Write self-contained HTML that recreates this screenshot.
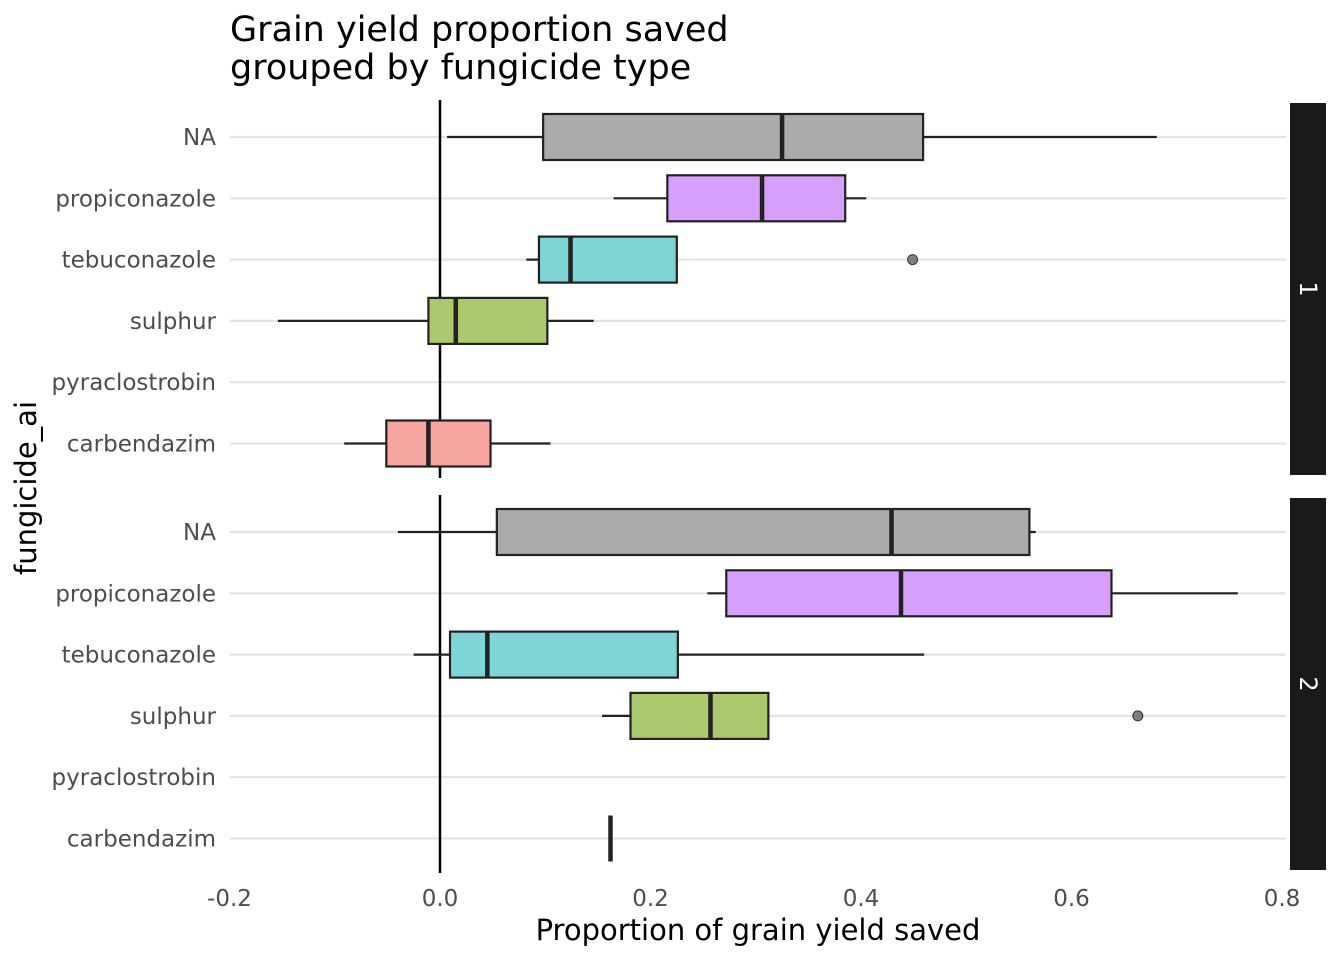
<!DOCTYPE html>
<html><head><meta charset="utf-8"><style>
body{margin:0;background:#fff;}
svg{display:block;font-family:"DejaVu Sans","Liberation Sans",sans-serif;}
</style></head><body>
<svg id="chart" width="1344" height="960" viewBox="0 0 1344 960" xmlns="http://www.w3.org/2000/svg">
<text x="230" y="41" font-size="35" fill="#000">Grain yield proportion saved</text>
<text x="230" y="79" font-size="35" fill="#000">grouped by fungicide type</text>
<text x="758" y="940" font-size="29" text-anchor="middle" fill="#000">Proportion of grain yield saved</text>
<text transform="translate(36,488) rotate(-90)" font-size="29" text-anchor="middle" fill="#000">fungicide_ai</text>
<g id="plot"></g>
</svg>
<script>
const categories = ["carbendazim","pyraclostrobin","sulphur","tebuconazole","propiconazole","NA"];
const panels = ["1","2"];
// [lo, q1, median, q3, hi] per category, null = no data
const panel1Stats = [[-0.091,-0.051,-0.011,0.048,0.105], null, [-0.154,-0.011,0.015,0.102,0.146], [0.082,0.094,0.124,0.225,0.225], [0.165,0.216,0.306,0.385,0.405], [0.0067,0.098,0.325,0.459,0.681]];
const panel2Stats = [[0.162,0.162,0.162,0.162,0.162], null, [0.154,0.181,0.257,0.312,0.312], [-0.025,0.0095,0.045,0.226,0.460], [0.254,0.272,0.438,0.638,0.758], [-0.040,0.054,0.429,0.560,0.566]];
const panel1Outliers = [[3,0.449]];
const panel2Outliers = [[2,0.663]];
const xTicks = [-0.2,0,0.2,0.4,0.6,0.8];
const xTickLabels = ["-0.2","0.0","0.2","0.4","0.6","0.8"];
const colors = ["#f7a5a1","#ccc","#aac96f","#7fd4d6","#d69ffb","#ababab"];

const NS="http://www.w3.org/2000/svg";
const g=document.getElementById('plot');
function mk(t,a,p){const e=document.createElementNS(NS,t);for(const k in a)e.setAttribute(k,a[k]);(p||g).appendChild(e);return e;}
const x=v=>440+v*1052.5;
const panelTop=[100,495], panelH=378, rowStep=61.3;
const y=(pi,ci)=>panelTop[pi]+37+(5-ci)*rowStep;
const allStats=[panel1Stats,panel2Stats], allOut=[panel1Outliers,panel2Outliers];

panels.forEach((pn,pi)=>{
  const top=panelTop[pi];
  categories.forEach((c,ci)=>{
    const gl=mk('line',{x1:230,x2:1286,y1:y(pi,ci),y2:y(pi,ci),stroke:'#e3e3e3','stroke-width':2.2});
    
    
    const t=mk('text',{x:216,y:y(pi,ci)+8,'font-size':23,fill:'#4d4d4d','text-anchor':'end'});
    t.textContent=c;
    
    
  });
  const zl=mk('line',{x1:x(0),x2:x(0),y1:top,y2:top+panelH,stroke:'#000','stroke-width':2.5});
  
  
  allStats[pi].forEach((s,ci)=>{
    if(!s)return;
    const cy=y(pi,ci);
    const bg=mk('g',{});
    
    
    mk('line',{x1:x(s[0]),x2:x(s[4]),y1:cy,y2:cy,stroke:'#222','stroke-width':2.2},bg);
    mk('rect',{x:x(s[1]),y:cy-23,width:Math.max(0,x(s[3])-x(s[1])),height:46,fill:colors[ci],stroke:'#222','stroke-width':2.2},bg);
    mk('line',{x1:x(s[2]),x2:x(s[2]),y1:cy-23,y2:cy+23,stroke:'#222','stroke-width':4.5},bg);
  });
  allOut[pi].forEach(o=>{
    const c=mk('circle',{cx:x(o[1]),cy:y(pi,o[0]),r:5,fill:'#555','fill-opacity':0.75,stroke:'#333','stroke-width':1});
    
    
  });
  const st=mk('rect',{x:1290,y:top+3,width:36,height:panelH-6,fill:'#1a1a1a'});
  
  
  const sl=mk('text',{transform:`translate(1300,${top+panelH/2}) rotate(90)`,'font-size':24,fill:'#fff','text-anchor':'middle'});
  sl.textContent=pn;
  
  
});
xTicks.forEach((v,i)=>{
  const t=mk('text',{x:x(v),y:906,'font-size':23,fill:'#4d4d4d','text-anchor':'middle'});
  t.textContent=xTickLabels[i];
  
  
});
</script>
</body></html>
